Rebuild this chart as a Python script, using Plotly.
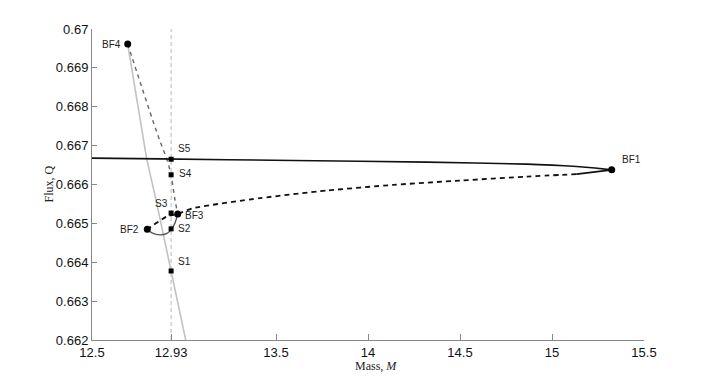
import plotly.graph_objects as go

# ---- data ----
upper_M = [12.5, 12.8696, 13.594, 14.319, 14.8625, 15.0, 15.134, 15.234, 15.3245]
upper_Q = [0.666678, 0.666660, 0.666616, 0.666575, 0.666524, 0.666498, 0.666462, 0.666423, 0.666377]

lower_solid_M = [15.3245, 15.134]
lower_solid_Q = [0.666377, 0.666266]

lower_dash_M = [15.134, 14.8625, 14.500, 14.1375, 13.7755, 13.413, 13.0505, 12.9658, 12.906, 12.8005]
lower_dash_Q = [0.666266, 0.666204, 0.666101, 0.665990, 0.665844, 0.665648, 0.665391, 0.665244, 0.665174, 0.664850]

loop_M = [12.8005, 12.8261, 12.8696, 12.9076, 12.9293, 12.9511, 12.9658]
loop_Q = [0.664850, 0.664755, 0.664704, 0.664742, 0.664832, 0.665012, 0.665244]

grey_dash_M = [12.694, 12.8603, 12.9076, 12.9293, 12.9511, 12.9658]
grey_dash_Q = [0.669613, 0.667234, 0.666634, 0.666248, 0.665604, 0.665244]

grey_solid_M = [12.694, 12.7788, 12.7973, 12.8478, 12.9293, 13.0092]
grey_solid_Q = [0.669613, 0.667193, 0.666660, 0.665604, 0.663776, 0.662]

vline_M = 12.93
vline_Q = [0.662, 0.670]

bf_names = ["BF1", "BF2", "BF3", "BF4"]
bf_M = [15.3245, 12.8005, 12.9658, 12.694]
bf_Q = [0.666377, 0.664850, 0.665244, 0.669613]

s_names = ["S1", "S2", "S3", "S4", "S5"]
s_M = [12.93, 12.93, 12.93, 12.93, 12.93]
s_Q = [0.663776, 0.664860, 0.665265, 0.666250, 0.666650]

x_ticks = [12.5, 12.93, 13.5, 14, 14.5, 15, 15.5]
x_tick_labels = ["12.5", "12.93", "13.5", "14", "14.5", "15", "15.5"]
y_ticks = [0.662, 0.663, 0.664, 0.665, 0.666, 0.667, 0.668, 0.669, 0.670]
y_tick_labels = ["0.662", "0.663", "0.664", "0.665", "0.666", "0.667", "0.668", "0.669", "0.67"]

# label placement (pixel offsets, anchors)
bf_label_pos = {"BF1": (8, 10, "left"), "BF2": (-6, 0, "right"), "BF3": (5, -2, "left"), "BF4": (-5, 0, "right")}
s_label_pos = {"S1": (5, 9, "left"), "S2": (5, 0, "left"), "S3": (-1, 10, "right"), "S4": (6, 1, "left"), "S5": (5, 11, "left")}

fig = go.Figure()

fig.add_trace(go.Scatter(x=[vline_M, vline_M], y=vline_Q, mode="lines",
                         line=dict(color="#c4c4c4", width=1.2, dash="4px,3px"), hoverinfo="skip"))
fig.add_trace(go.Scatter(x=grey_solid_M, y=grey_solid_Q, mode="lines",
                         line=dict(color="#c2c2c2", width=1.6), hoverinfo="skip"))
fig.add_trace(go.Scatter(x=grey_dash_M, y=grey_dash_Q, mode="lines", line_shape="spline",
                         line=dict(color="#666666", width=1.4, dash="4px,4px"), hoverinfo="skip"))
fig.add_trace(go.Scatter(x=upper_M, y=upper_Q, mode="lines", line_shape="spline",
                         line=dict(color="#111111", width=1.6, smoothing=0.5), hoverinfo="skip"))
fig.add_trace(go.Scatter(x=lower_solid_M, y=lower_solid_Q, mode="lines",
                         line=dict(color="#111111", width=1.8), hoverinfo="skip"))
fig.add_trace(go.Scatter(x=lower_dash_M, y=lower_dash_Q, mode="lines", line_shape="spline",
                         line=dict(color="#111111", width=1.8, dash="5px,4px", smoothing=0.6), hoverinfo="skip"))
fig.add_trace(go.Scatter(x=loop_M, y=loop_Q, mode="lines", line_shape="spline",
                         line=dict(color="#555555", width=1.4), hoverinfo="skip"))

fig.add_trace(go.Scatter(x=s_M, y=s_Q, mode="markers",
                         marker=dict(symbol="square", size=5, color="black"), hoverinfo="skip"))
fig.add_trace(go.Scatter(x=bf_M, y=bf_Q, mode="markers",
                         marker=dict(symbol="circle", size=7, color="black"), hoverinfo="skip"))

annotations = []
for n, xm, yq in zip(bf_names, bf_M, bf_Q):
    dx, dy, anc = bf_label_pos[n]
    annotations.append(dict(x=xm, y=yq, text=n, showarrow=False, xanchor=anc, yanchor="middle",
                            xshift=dx, yshift=dy, font=dict(family="Liberation Sans", size=10, color="#222")))
for n, xm, yq in zip(s_names, s_M, s_Q):
    dx, dy, anc = s_label_pos[n]
    annotations.append(dict(x=xm, y=yq, text=n, showarrow=False, xanchor=anc, yanchor="middle",
                            xshift=dx, yshift=dy, font=dict(family="Liberation Sans", size=10, color="#222")))

# axis titles
annotations.append(dict(xref="paper", yref="paper", x=0.514, y=0, yshift=-26, text="Mass, <i>M</i>",
                        showarrow=False, xanchor="center", yanchor="middle",
                        font=dict(family="Liberation Serif", size=12, color="#222")))
annotations.append(dict(xref="paper", yref="paper", x=-0.0797, y=0.5, text="Flux, Q", textangle=-90,
                        showarrow=False, xanchor="center", yanchor="middle",
                        font=dict(family="Liberation Serif", size=12, color="#222")))

# the page body adds an 8px offset, so the figure is sized/margined to compensate
fig.update_layout(
    width=703, height=374,
    margin=dict(l=84, r=67, t=21, b=42),
    plot_bgcolor="white", paper_bgcolor="white",
    showlegend=False,
    annotations=annotations,
    xaxis=dict(range=[12.5, 15.5], tickmode="array", tickvals=x_ticks, ticktext=x_tick_labels,
               ticks="inside", ticklen=6, tickcolor="#888", showline=True, linecolor="#888", linewidth=1,
               showgrid=False, zeroline=False, automargin=False,
               tickfont=dict(family="Liberation Sans", size=13, color="#111")),
    yaxis=dict(range=[0.662, 0.670], tickmode="array", tickvals=y_ticks, ticktext=y_tick_labels,
               ticks="inside", ticklen=5, tickcolor="#888", showline=True, linecolor="#888", linewidth=1,
               showgrid=False, zeroline=False, automargin=False,
               tickfont=dict(family="Liberation Sans", size=13, color="#111")),
)

fig.write_html("out.html")
